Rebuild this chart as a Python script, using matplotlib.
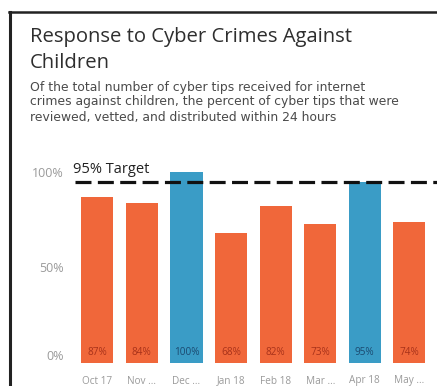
import matplotlib
matplotlib.use("Agg")
import matplotlib.pyplot as plt
from matplotlib.lines import Line2D

plt.rcParams['font.family'] = ['Open Sans', 'DejaVu Sans']

months = ["Oct 17", "Nov ...", "Dec ...", "Jan 18", "Feb 18", "Mar ...", "Apr 18", "May ..."]
pct_within_24h = [87, 84, 100, 68, 82, 73, 95, 74]
target = 95
yticks = [0, 50, 100]
ytick_labels = ["0%", "50%", "100%"]

ORANGE = "#F0673A"
BLUE = "#3A9CC6"
ORANGE_TXT = "#A8321A"
BLUE_TXT = "#1B4A70"

W, H = 437, 386
fig = plt.figure(figsize=(W / 100, H / 100), dpi=100)
fig.patch.set_facecolor("white")


def px(x, y):
    return x / W, 1 - y / H


# frame lines (top and left)
fig.add_artist(Line2D([9 / W, 1], [1 - 12 / H, 1 - 12 / H], color="#222222", lw=1.8,
                      transform=fig.transFigure))
fig.add_artist(Line2D([10 / W, 10 / W], [0, 1 - 12 / H], color="#222222", lw=2.2,
                      transform=fig.transFigure))

# titles
fig.text(*px(30, 37), "Response to Cyber Crimes Against", fontsize=14.6,
         color="#2e2e2e", va="center", ha="left")
fig.text(*px(30, 63), "Children", fontsize=14.6, color="#2e2e2e", va="center", ha="left")
subtitle = ["Of the total number of cyber tips received for internet",
            "crimes against children, the percent of cyber tips that were",
            "reviewed, vetted, and distributed within 24 hours"]
for i, line in enumerate(subtitle):
    fig.text(*px(30, 87 + i * 15), line, fontsize=8.9, color="#4a4a4a",
             va="center", ha="left", family="DejaVu Sans")

# plot area
left, right = 75, 437
bottom, top = 363, 172
ax = fig.add_axes([left / W, 1 - bottom / H, (right - left) / W, (bottom - top) / H])
ax.set_xlim(-0.5, 7.62)
ax.set_ylim(0, 100)

colors = [BLUE if v >= target else ORANGE for v in pct_within_24h]
txt_colors = [BLUE_TXT if v >= target else ORANGE_TXT for v in pct_within_24h]
xs = list(range(len(months)))
ax.bar(xs, pct_within_24h, width=0.72, color=colors, zorder=2)

for x, v, c in zip(xs, pct_within_24h, txt_colors):
    ax.text(x, 5.5, f"{v}%", ha="center", va="center", fontsize=7.2, color=c, zorder=3)

ax.axhline(target, color="#111111", lw=2.3, dashes=(5.0, 2.0), zorder=4, clip_on=False)
ax.text(0.32, target + 2.3, "95% Target", fontsize=10.5, color="#222222",
        ha="center", va="bottom")

ax.set_yticks(yticks)
ax.set_yticklabels(ytick_labels, fontsize=9, color="#9a9a9a")
for lbl, t in zip(ax.get_yticklabels(), yticks):
    if t == 0:
        lbl.set_va("bottom")
ax.tick_params(axis="y", length=0, pad=8)
ax.set_xticks(xs)
ax.set_xticklabels(months, fontsize=7.2, color="#9a9a9a")
ax.tick_params(axis="x", length=0, pad=9)

for s in ax.spines.values():
    s.set_visible(False)
ax.set_facecolor("none")

fig.savefig("out.png", dpi=100, facecolor="white")
